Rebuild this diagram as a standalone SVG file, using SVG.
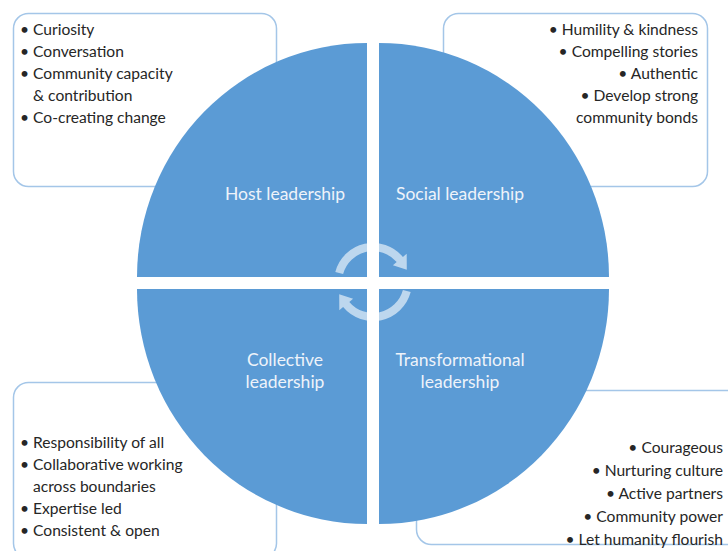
<svg xmlns="http://www.w3.org/2000/svg" width="728" height="551" viewBox="0 0 728 551">
<style>
.box{fill:#fff;stroke:#a4c6e8;stroke-width:1.5}
.q{fill:#5b9bd5}
.t{font-family:Lato,"Liberation Sans",sans-serif;font-size:15.6px;fill:#262626}
.r{text-anchor:end}
.lbl{font-family:Lato,"Liberation Sans",sans-serif;font-size:17.5px;fill:#eef3fa;text-anchor:middle}
.arr{fill:#fff;fill-opacity:0.6}
</style>
<rect width="728" height="551" fill="#fff"/>
<g id="box-host"><rect class="box" x="13.5" y="13.5" width="263" height="173" rx="15"/>
<text class="t" x="20" y="35">• Curiosity</text>
<text class="t" x="20" y="57">• Conversation</text>
<text class="t" x="20" y="79">• Community capacity</text>
<text class="t" x="33" y="101">&amp; contribution</text>
<text class="t" x="20" y="123">• Co-creating change</text>
</g>
<g id="box-social"><rect class="box" x="443.5" y="13.5" width="264" height="173" rx="15"/>
<text class="t r" x="698" y="35">• Humility &amp; kindness</text>
<text class="t r" x="698" y="57">• Compelling stories</text>
<text class="t r" x="698" y="79">• Authentic</text>
<text class="t r" x="698" y="101">• Develop strong</text>
<text class="t r" x="698" y="123">community bonds</text>
</g>
<g id="box-collective"><rect class="box" x="13.5" y="382.5" width="263" height="176" rx="15"/>
<text class="t" x="20" y="448">• Responsibility of all</text>
<text class="t" x="20" y="470">• Collaborative working</text>
<text class="t" x="33" y="492">across boundaries</text>
<text class="t" x="20" y="514">• Expertise led</text>
<text class="t" x="20" y="536">• Consistent &amp; open</text>
</g>
<g id="box-transformational"><rect class="box" x="416.5" y="390.5" width="330" height="154" rx="15"/>
<text class="t r" x="723" y="453">• Courageous</text>
<text class="t r" x="723" y="476">• Nurturing culture</text>
<text class="t r" x="723" y="499">• Active partners</text>
<text class="t r" x="723" y="522">• Community power</text>
<text class="t r" x="723" y="545">• Let humanity flourish</text>
</g>
<g id="host"><path class="q" d="M367,277 L137,277 A230,234 0 0 1 367,43 Z"/>
<text class="lbl" x="285" y="200">Host leadership</text></g>
<g id="social"><path class="q" d="M379,277 L379,43 A230,234 0 0 1 609,277 Z"/>
<text class="lbl" x="460" y="200">Social leadership</text></g>
<g id="collective"><path class="q" d="M367,289 L367,524 A230,235 0 0 1 137,289 Z"/>
<text class="lbl" x="285" y="366">Collective</text>
<text class="lbl" x="285" y="388">leadership</text></g>
<g id="transformational"><path class="q" d="M379,289 L609,289 A230,235 0 0 1 379,524 Z"/>
<text class="lbl" x="460" y="366">Transformational</text>
<text class="lbl" x="460" y="388">leadership</text></g>
<g id="connectors">
<path class="arr" d="M335.3,271.9 A39,39 0 0 1 402.9,256.9 L406.7,253.7 L406.8,269.7 L392.9,265.3 L396.7,262.1 A31,31 0 0 0 343.1,274.0 Z"/>
<path class="arr" d="M410.7,292.1 A39,39 0 0 1 343.1,307.1 L339.3,310.3 L339.2,294.3 L353.1,298.7 L349.3,301.9 A31,31 0 0 0 402.9,290.0 Z"/>
<rect x="367" y="230" width="12" height="100" fill="#fff"/>
<rect x="330" y="277" width="90" height="12" fill="#fff"/>
</g>
</svg>
